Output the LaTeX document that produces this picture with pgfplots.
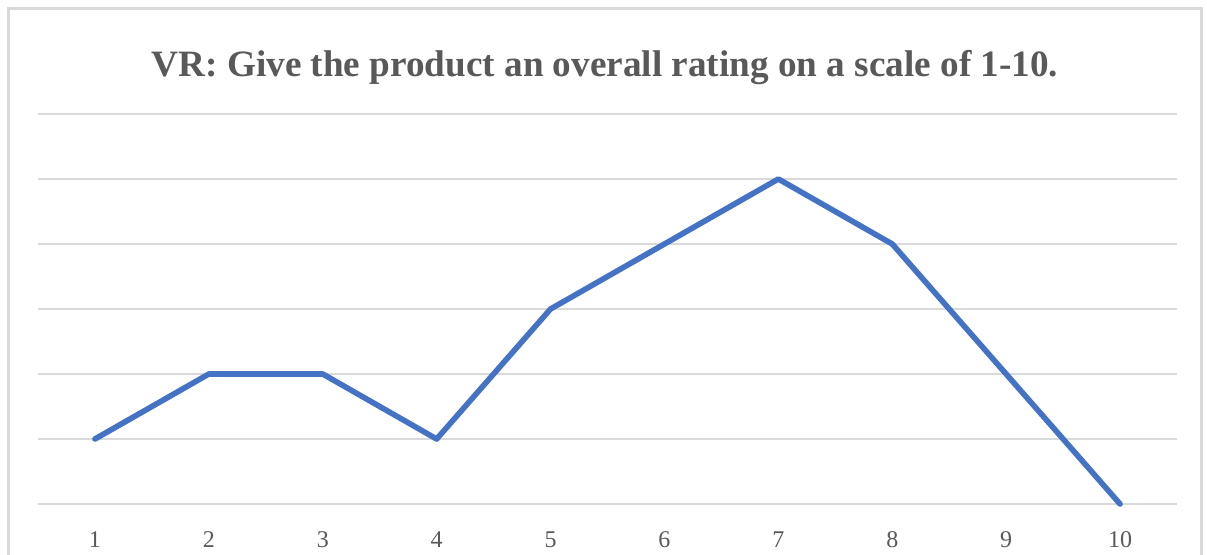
\documentclass[border=0pt]{standalone}
\usepackage{pgfplots}
\pgfplotsset{compat=1.18}
\usepackage{fontspec}
\setmainfont{Liberation Serif}
\definecolor{txtgray}{HTML}{595959}
\definecolor{gridgray}{HTML}{D9D9D9}
\definecolor{lineblue}{HTML}{4472C4}
\begin{document}
\begin{tikzpicture}
\useasboundingbox (0pt,0pt) rectangle (603.5pt,277pt);
\fill[white] (0pt,0pt) rectangle (603.5pt,277pt);
\draw[gridgray, line width=1.5pt] (4pt,-5pt) rectangle (600.5pt,273pt);
\node[text=txtgray, font=\fontsize{18.6}{22}\selectfont\bfseries] at (302.5pt,243pt) {VR: Give the product an overall rating on a scale of 1-10.};
\begin{axis}[
  at={(19pt,25pt)}, anchor=south west,
  scale only axis, width=569.5pt, height=195pt,
  xmin=0.5, xmax=10.5, ymin=0, ymax=6,
  axis line style={draw=none},
  xtick={1,...,10},
  ytick={0,...,6},
  yticklabels={},
  ymajorgrids,
  grid style={gridgray, line width=0.75pt},
  major tick length=0pt,
  /pgf/number format/assume math mode=true,
  tick label style={text=txtgray, font=\fontsize{12}{14}\selectfont},
  xticklabel style={anchor=center, yshift=-18pt},
  clip=false,
]
\addplot[lineblue, line width=2.8pt, line join=round, line cap=round] coordinates {
(1,1) (2,2) (3,2) (4,1) (5,3) (6,4) (7,5) (8,4) (9,2) (10,0)
};
\end{axis}
\end{tikzpicture}
\end{document}
